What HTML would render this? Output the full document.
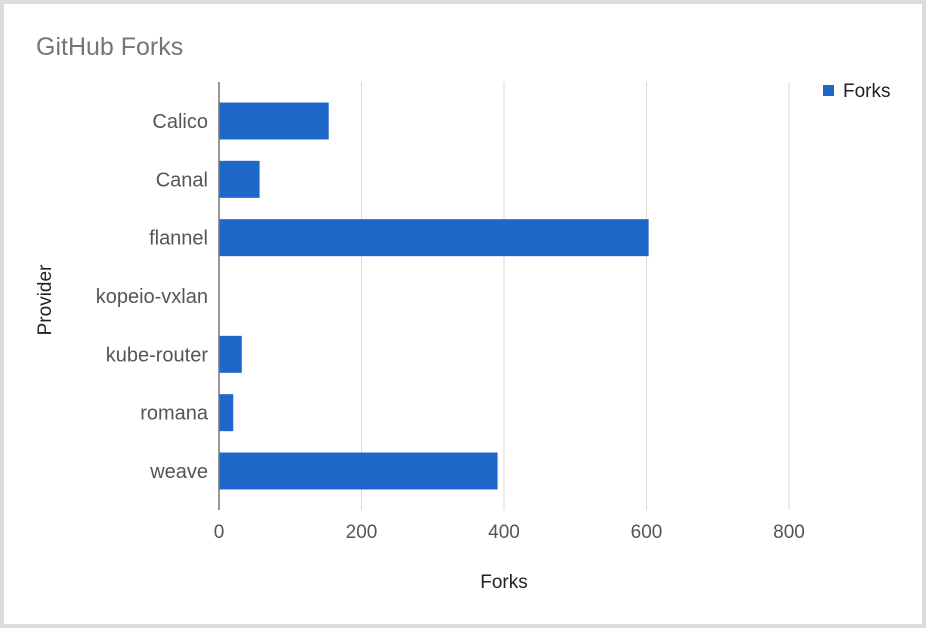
<!DOCTYPE html>
<html><head><meta charset="utf-8"><style>
html,body{margin:0;padding:0;background:#fff;}
#wrap{position:relative;width:926px;height:628px;box-sizing:border-box;border:4px solid #dcdcdc;background:#fff;}
svg{position:absolute;left:-4px;top:-4px;font-family:"Liberation Sans",sans-serif;}
</style></head><body>
<div id="wrap">
<svg id="chart" width="926" height="628">
<text x="36" y="55" font-size="25" fill="#757575">GitHub Forks</text>
<text x="504" y="588" font-size="19" fill="#222" text-anchor="middle">Forks</text>
<text transform="translate(51,300) rotate(-90)" font-size="19" fill="#222" text-anchor="middle">Provider</text>
<g>
<rect x="823" y="85" width="11" height="11" fill="#1f68c9"></rect>
<text x="843" y="97" font-size="19" fill="#222">Forks</text>
</g>
<g id="grid"></g><g id="bars"></g><g id="labels"></g>
</svg>
</div>
<script>
const categories=["Calico","Canal","flannel","kopeio-vxlan","kube-router","romana","weave"];
const forks=[154,57,603,0,32,20,391];
const ticks=[0,200,400,600,800];
const NS="http://www.w3.org/2000/svg";
const x0=219, pxPer=(789-219)/800;
const xs=v=>x0+v*pxPer;
const yTop=82, yBot=510, step=(471-121)/6, firstC=121, bh=37;
const ys=i=>firstC+i*step;
function mk(tag,attrs,parent){const e=document.createElementNS(NS,tag);for(const k in attrs)e.setAttribute(k,attrs[k]);parent.appendChild(e);return e;}
const grid=document.getElementById('grid'),bars=document.getElementById('bars'),labels=document.getElementById('labels');
ticks.forEach(t=>{
  if(t!==0){const l=mk('line',{x1:xs(t),x2:xs(t),y1:yTop,y2:yBot,stroke:'#dadada','stroke-width':1},grid);
  
  }
  const tx=mk('text',{x:xs(t),y:538,'font-size':19,fill:'#555','text-anchor':'middle'},labels);
  tx.textContent=t;
  
  
});
categories.forEach((c,i)=>{
  const r=mk('rect',{x:x0,y:ys(i)-bh/2,width:Math.max(0,xs(forks[i])-x0),height:bh,fill:'#1f68c9'},bars);
  
  
  const tx=mk('text',{x:208,y:ys(i)+7,'font-size':20,fill:'#555','text-anchor':'end'},labels);
  tx.textContent=c;
  
  
});
const ax=mk('line',{x1:x0,x2:x0,y1:yTop,y2:yBot,stroke:'#777','stroke-width':1.5},labels);


</script>
</body></html>
